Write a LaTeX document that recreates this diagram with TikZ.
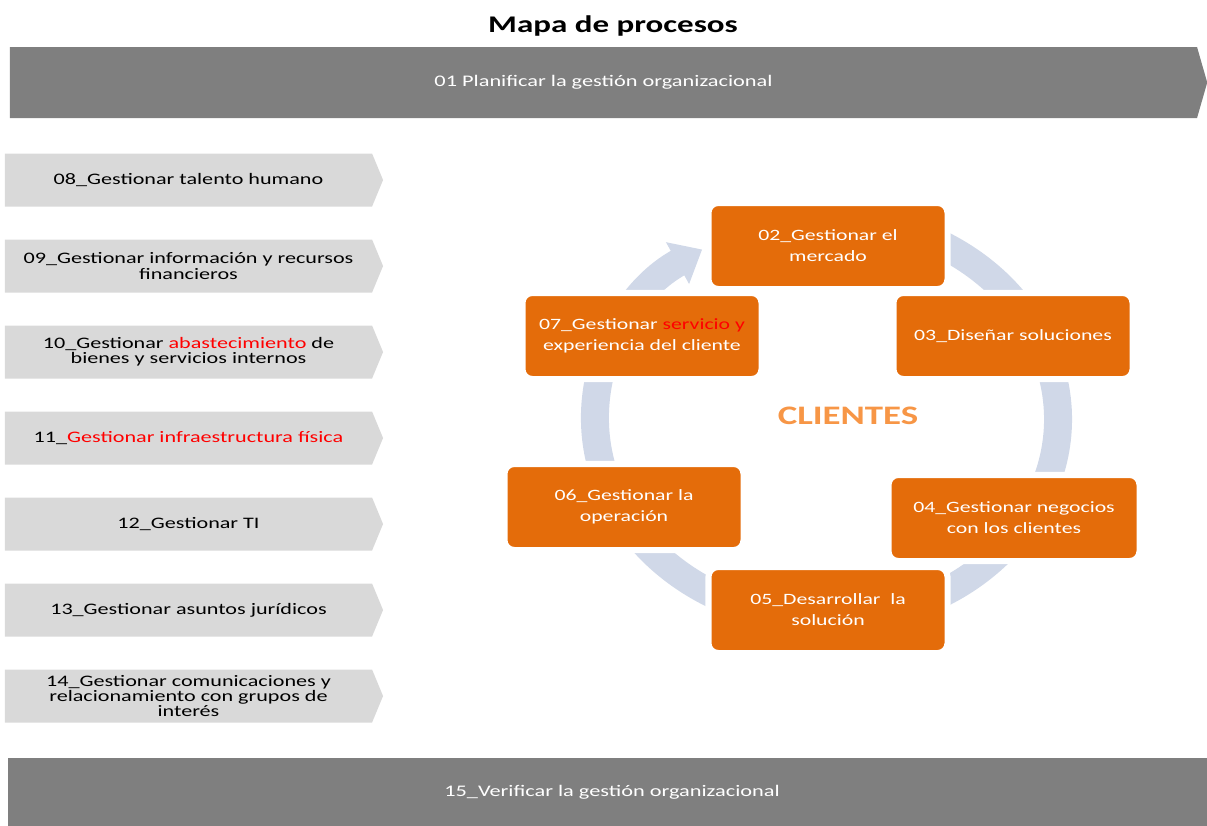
\documentclass[tikz,border=0pt]{standalone}
\usepackage{fontspec}
\setmainfont{Carlito}[FakeStretch=1.38]
\usetikzlibrary{shapes.symbols,arrows.meta}
\definecolor{bandagris}{RGB}{127,127,127}
\definecolor{grisclaro}{RGB}{217,217,217}
\definecolor{naranja}{RGB}{228,108,10}
\definecolor{naranjaclaro}{RGB}{247,150,70}
\definecolor{anillo}{RGB}{208,216,232}

\begin{document}
\begin{tikzpicture}[x=0.025cm,y=-0.025cm]
\tikzstyle{banda}=[rectangle,fill=bandagris,text=white,inner sep=0pt,font=\fontsize{11.5}{13}\selectfont]
\tikzstyle{apoyo}=[signal,signal to=east,signal pointer angle=135,fill=grisclaro,inner sep=0pt,minimum width=268.9pt,minimum height=37.7pt,align=center,font=\fontsize{11.4}{10.7}\selectfont]
\tikzstyle{proceso}=[rectangle,rounded corners=7pt,fill=naranja,draw=white,line width=4.3pt,text=white,inner sep=0pt,minimum width=170pt,minimum height=61.2pt,align=center,font=\fontsize{11.2}{15}\selectfont]
\tikzstyle{ciclo}=[draw=anillo,line width=19.9pt,-{Triangle[width=32.7pt,length=20pt]}]
\useasboundingbox (0,0) rectangle (1207,825);

\node (titulo) at (613,26) {\fontsize{17}{20}\selectfont\bfseries Mapa de procesos};
\node [banda,signal,signal to=east,signal pointer angle=148,minimum width=851.4pt,minimum height=50.5pt] (p01) at (603.5,82.5) {01 Planificar la gestión organizacional};
\node [banda,minimum width=858.6pt,minimum height=48.4pt] (p15) at (612,792) {15\_Verificar la gestión organizacional};

\node [apoyo] (p08) at (188.5,180) {08\_Gestionar talento humano};
\node [apoyo] (p09) at (188.5,266) {09\_Gestionar información y recursos\\financieros};
\node [apoyo] (p10) at (188.5,352) {10\_Gestionar \textcolor{red}{abastecimiento} de\\bienes y servicios internos};
\node [apoyo] (p11) at (188.5,438) {11\_\textcolor{red}{Gestionar infraestructura física}};
\node [apoyo] (p12) at (188.5,524) {12\_Gestionar TI};
\node [apoyo] (p13) at (188.5,610) {13\_Gestionar asuntos jurídicos};
\node [apoyo] (p14) at (188.5,696) {14\_Gestionar comunicaciones y\\relacionamiento con grupos de\\interés};

\coordinate (centro) at (826.5,419);
\draw [ciclo] (centro) ++(-100:231.5 and 201) arc[start angle=-100,end angle=237.5,x radius=231.5,y radius=201];
\node [text=naranjaclaro,font=\fontsize{19}{22}\selectfont\bfseries] (clientes) at (848,416) {CLIENTES};

\node [proceso] (p02) at (828,246) {02\_Gestionar el\\mercado};
\node [proceso] (p03) at (1013,336) {03\_Diseñar soluciones};
\node [proceso,minimum width=178.5pt] (p04) at (1014,518) {04\_Gestionar negocios\\con los clientes};
\node [proceso] (p05) at (828,610) {05\_Desarrollar~ la\\solución};
\node [proceso] (p06) at (624,507) {06\_Gestionar la\\operación};
\node [proceso] (p07) at (642,336) {07\_Gestionar \textcolor{red}{servicio y}\\experiencia del cliente};
\end{tikzpicture}
\end{document}
